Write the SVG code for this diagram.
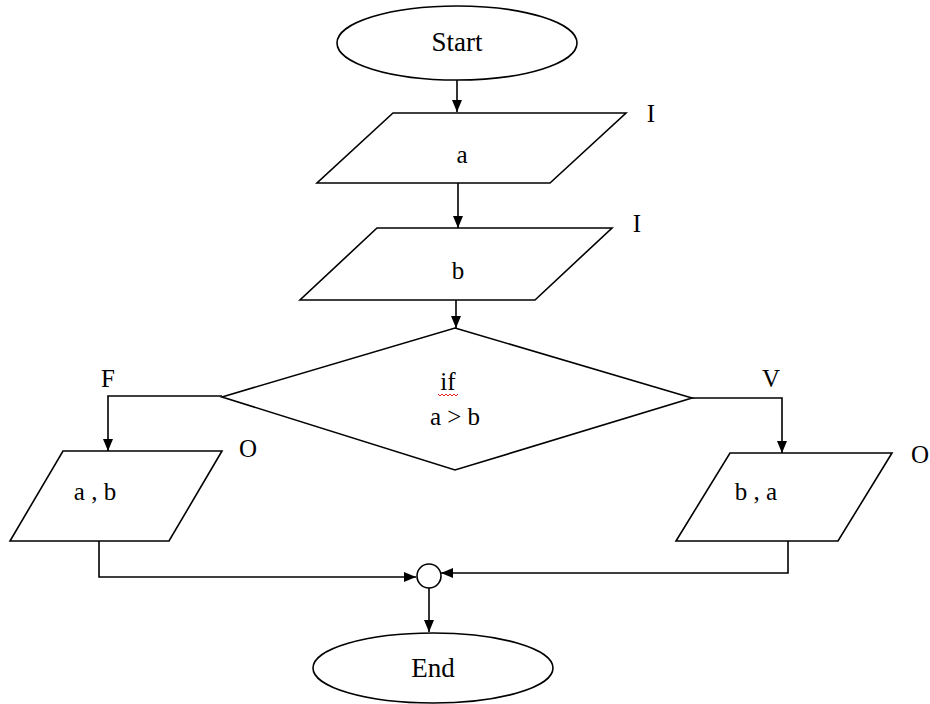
<svg xmlns="http://www.w3.org/2000/svg" width="930" height="704" viewBox="0 0 930 704">
<defs>
<marker id="ah" viewBox="0 0 12 10" refX="12" refY="5" markerWidth="12" markerHeight="10" markerUnits="userSpaceOnUse" orient="auto">
<path d="M0,0 L12,5 L0,10 Z" fill="#000"/>
</marker>
</defs>
<style>
.shape{fill:#fff;stroke:#000;stroke-width:1.6}
.line{fill:none;stroke:#000;stroke-width:1.6}
.arrow{fill:none;stroke:#000;stroke-width:1.6;marker-end:url(#ah)}
text{font-family:"Liberation Serif","Times New Roman",serif;font-size:25px;fill:#000;text-anchor:middle}
.big{font-size:27px}
</style>
<rect width="930" height="704" fill="#fff"/>
<g id="connectors">
<line class="arrow" x1="457" y1="80" x2="457" y2="112"/>
<line class="arrow" x1="458" y1="183" x2="458" y2="228"/>
<line class="arrow" x1="456" y1="300" x2="456" y2="328"/>
<polyline class="arrow" points="222,396 108,396 108,451"/>
<polyline class="arrow" points="692,398 782,398 782,453"/>
<polyline class="arrow" points="99,541 99,577 416,577"/>
<polyline class="arrow" points="788,541 788,573 441,573"/>
<line class="arrow" x1="429" y1="588" x2="429" y2="632"/>
</g>
<g id="start">
<ellipse class="shape" cx="457" cy="43" rx="120" ry="37"/>
<text class="big" x="457" y="51">Start</text>
</g>
<g id="input-a">
<polygon class="shape" points="393,113 626,113 550,183 317,183"/>
<text x="462" y="163">a</text>
<text x="651" y="122">I</text>
</g>
<g id="input-b">
<polygon class="shape" points="377,228 612,228 535,300 300,300"/>
<text x="458" y="279">b</text>
<text x="637" y="232">I</text>
</g>
<g id="decision">
<polygon class="shape" points="455,328 692,398 455,470 222,397"/>
<text x="448" y="390">if</text>
<path d="M438,394 l2,2 l2,-2 l2,2 l2,-2 l2,2 l2,-2 l2,2 l2,-2 l2,2 l2,-2" fill="none" stroke="#d22" stroke-width="1"/>
<text x="455" y="425">a &gt; b</text>
<text x="108" y="387">F</text>
<text x="771" y="387">V</text>
</g>
<g id="output-ab">
<polygon class="shape" points="63,451 222,451 169,541 10,541"/>
<text x="95" y="500">a , b</text>
<text x="248" y="457">O</text>
</g>
<g id="output-ba">
<polygon class="shape" points="730,453 892,453 838,541 676,541"/>
<text x="756" y="500">b , a</text>
<text x="920" y="463">O</text>
</g>
<g id="join">
<circle class="shape" cx="429" cy="576" r="12"/>
</g>
<g id="end">
<ellipse class="shape" cx="433" cy="668" rx="120" ry="35"/>
<text class="big" x="433" y="677">End</text>
</g>
</svg>
